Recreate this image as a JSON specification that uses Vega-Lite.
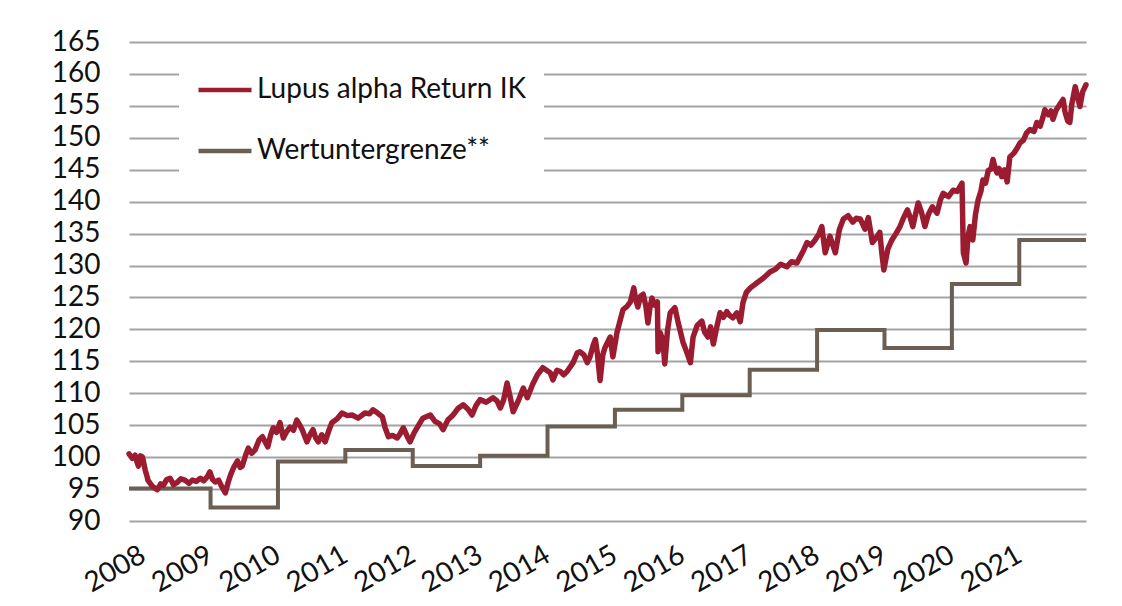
{
  "$schema": "https://vega.github.io/schema/vega-lite/v6.json",
  "width": 957,
  "height": 479,
  "autosize": {"type": "none"},
  "padding": {"left": 129, "top": 42, "right": 36, "bottom": 85},
  "background": "white",
  "config": {
    "font": "Lato",
    "view": {"stroke": null},
    "axis": {"labelFont": "Lato", "labelFontSize": 28, "labelColor": "#111111", "titleFont": "Lato"}
  },
  "datasets": {
    "fund": [
      {"t": 2007.79, "v": 100.5}, {"t": 2007.84, "v": 99.8}, {"t": 2007.88, "v": 100.3}, {"t": 2007.91, "v": 99.2}, {"t": 2007.93, "v": 98.6}, {"t": 2007.96, "v": 100.2}, {"t": 2007.99, "v": 100.0},
      {"t": 2008.03, "v": 98.0}, {"t": 2008.06, "v": 96.9}, {"t": 2008.07, "v": 96.4}, {"t": 2008.14, "v": 95.4}, {"t": 2008.21, "v": 94.9}, {"t": 2008.26, "v": 95.8}, {"t": 2008.30, "v": 95.6},
      {"t": 2008.35, "v": 96.5}, {"t": 2008.40, "v": 96.7}, {"t": 2008.45, "v": 95.7}, {"t": 2008.50, "v": 96.0}, {"t": 2008.56, "v": 96.6}, {"t": 2008.62, "v": 96.4}, {"t": 2008.68, "v": 95.9}, {"t": 2008.73, "v": 96.4},
      {"t": 2008.79, "v": 96.2}, {"t": 2008.85, "v": 96.7}, {"t": 2008.90, "v": 96.3}, {"t": 2008.95, "v": 96.9}, {"t": 2008.99, "v": 97.7}, {"t": 2009.03, "v": 96.5}, {"t": 2009.07, "v": 96.1},
      {"t": 2009.12, "v": 96.4}, {"t": 2009.17, "v": 95.3}, {"t": 2009.22, "v": 94.4}, {"t": 2009.26, "v": 96.0}, {"t": 2009.30, "v": 97.3}, {"t": 2009.34, "v": 98.3}, {"t": 2009.40, "v": 99.4},
      {"t": 2009.44, "v": 98.4}, {"t": 2009.47, "v": 98.6}, {"t": 2009.52, "v": 100.3}, {"t": 2009.56, "v": 101.4}, {"t": 2009.61, "v": 100.6}, {"t": 2009.66, "v": 101.1}, {"t": 2009.72, "v": 102.7}, {"t": 2009.77, "v": 103.2},
      {"t": 2009.81, "v": 102.4}, {"t": 2009.85, "v": 101.6}, {"t": 2009.89, "v": 103.4}, {"t": 2009.93, "v": 104.6}, {"t": 2009.98, "v": 103.9}, {"t": 2010.03, "v": 105.4}, {"t": 2010.08, "v": 103.0},
      {"t": 2010.13, "v": 104.0}, {"t": 2010.18, "v": 104.7}, {"t": 2010.23, "v": 104.2}, {"t": 2010.28, "v": 105.8}, {"t": 2010.32, "v": 105.1}, {"t": 2010.36, "v": 104.3}, {"t": 2010.43, "v": 102.4},
      {"t": 2010.48, "v": 103.6}, {"t": 2010.52, "v": 104.3}, {"t": 2010.56, "v": 103.0}, {"t": 2010.60, "v": 102.4}, {"t": 2010.65, "v": 103.5}, {"t": 2010.70, "v": 102.4}, {"t": 2010.75, "v": 104.0}, {"t": 2010.80, "v": 105.4},
      {"t": 2010.88, "v": 106.0}, {"t": 2010.95, "v": 106.9}, {"t": 2011.03, "v": 106.5}, {"t": 2011.10, "v": 106.6}, {"t": 2011.19, "v": 106.1}, {"t": 2011.29, "v": 106.9},
      {"t": 2011.36, "v": 106.8}, {"t": 2011.41, "v": 107.4}, {"t": 2011.48, "v": 106.9}, {"t": 2011.55, "v": 106.3}, {"t": 2011.59, "v": 104.6}, {"t": 2011.64, "v": 103.2}, {"t": 2011.70, "v": 103.4}, {"t": 2011.77, "v": 103.0},
      {"t": 2011.81, "v": 103.6}, {"t": 2011.86, "v": 104.6}, {"t": 2011.92, "v": 103.2}, {"t": 2011.96, "v": 102.4}, {"t": 2012.02, "v": 103.8}, {"t": 2012.07, "v": 104.7}, {"t": 2012.15, "v": 106.1},
      {"t": 2012.26, "v": 106.6}, {"t": 2012.33, "v": 105.6}, {"t": 2012.40, "v": 105.2}, {"t": 2012.45, "v": 104.3}, {"t": 2012.52, "v": 105.8}, {"t": 2012.60, "v": 106.6}, {"t": 2012.67, "v": 107.6}, {"t": 2012.75, "v": 108.2},
      {"t": 2012.82, "v": 107.5}, {"t": 2012.88, "v": 106.6}, {"t": 2012.94, "v": 108.1}, {"t": 2013.00, "v": 109.0}, {"t": 2013.09, "v": 108.6}, {"t": 2013.19, "v": 109.3}, {"t": 2013.25, "v": 108.8}, {"t": 2013.30, "v": 107.7},
      {"t": 2013.35, "v": 109.0}, {"t": 2013.40, "v": 111.6}, {"t": 2013.45, "v": 109.2}, {"t": 2013.49, "v": 107.1}, {"t": 2013.57, "v": 108.9}, {"t": 2013.64, "v": 110.8}, {"t": 2013.70, "v": 109.3},
      {"t": 2013.78, "v": 111.4}, {"t": 2013.85, "v": 112.9}, {"t": 2013.93, "v": 114.0}, {"t": 2014.04, "v": 113.2}, {"t": 2014.08, "v": 112.1},
      {"t": 2014.14, "v": 113.6}, {"t": 2014.19, "v": 113.4}, {"t": 2014.24, "v": 112.9}, {"t": 2014.29, "v": 113.4}, {"t": 2014.38, "v": 114.8}, {"t": 2014.44, "v": 116.3}, {"t": 2014.48, "v": 116.5},
      {"t": 2014.54, "v": 116.0}, {"t": 2014.59, "v": 114.8}, {"t": 2014.63, "v": 115.7}, {"t": 2014.68, "v": 117.6}, {"t": 2014.71, "v": 118.4}, {"t": 2014.74, "v": 116.2}, {"t": 2014.78, "v": 112.0},
      {"t": 2014.82, "v": 116.0}, {"t": 2014.85, "v": 117.1}, {"t": 2014.93, "v": 118.8}, {"t": 2014.97, "v": 115.7}, {"t": 2015.03, "v": 119.5},
      {"t": 2015.08, "v": 121.5}, {"t": 2015.12, "v": 123.1}, {"t": 2015.18, "v": 123.6}, {"t": 2015.23, "v": 124.3}, {"t": 2015.28, "v": 126.5}, {"t": 2015.31, "v": 124.6}, {"t": 2015.34, "v": 123.5},
      {"t": 2015.38, "v": 125.2}, {"t": 2015.42, "v": 125.5}, {"t": 2015.46, "v": 123.6}, {"t": 2015.49, "v": 121.0}, {"t": 2015.52, "v": 123.4}, {"t": 2015.55, "v": 124.9}, {"t": 2015.59, "v": 123.8}, {"t": 2015.63, "v": 124.3},
      {"t": 2015.64, "v": 116.5}, {"t": 2015.67, "v": 119.5}, {"t": 2015.71, "v": 118.4}, {"t": 2015.74, "v": 114.6}, {"t": 2015.78, "v": 119.8}, {"t": 2015.82, "v": 122.6},
      {"t": 2015.89, "v": 123.4}, {"t": 2015.94, "v": 121.0}, {"t": 2016.01, "v": 118.0}, {"t": 2016.06, "v": 116.6}, {"t": 2016.12, "v": 114.8},
      {"t": 2016.16, "v": 118.8}, {"t": 2016.22, "v": 120.6}, {"t": 2016.29, "v": 121.3}, {"t": 2016.33, "v": 119.6}, {"t": 2016.38, "v": 118.8}, {"t": 2016.42, "v": 120.4}, {"t": 2016.46, "v": 117.7},
      {"t": 2016.51, "v": 120.3}, {"t": 2016.56, "v": 122.6}, {"t": 2016.61, "v": 121.9}, {"t": 2016.66, "v": 122.8}, {"t": 2016.70, "v": 122.2}, {"t": 2016.75, "v": 121.8}, {"t": 2016.81, "v": 122.6}, {"t": 2016.86, "v": 121.2},
      {"t": 2016.90, "v": 124.2}, {"t": 2016.95, "v": 125.8}, {"t": 2017.01, "v": 126.5}, {"t": 2017.11, "v": 127.3}, {"t": 2017.20, "v": 128.0}, {"t": 2017.30, "v": 129.0},
      {"t": 2017.38, "v": 129.4}, {"t": 2017.46, "v": 130.2}, {"t": 2017.55, "v": 129.8}, {"t": 2017.62, "v": 130.6}, {"t": 2017.70, "v": 130.4}, {"t": 2017.75, "v": 131.4}, {"t": 2017.80, "v": 132.4}, {"t": 2017.85, "v": 133.6},
      {"t": 2017.91, "v": 133.2}, {"t": 2017.97, "v": 134.0}, {"t": 2018.03, "v": 135.0}, {"t": 2018.07, "v": 136.1}, {"t": 2018.12, "v": 132.0}, {"t": 2018.19, "v": 134.6},
      {"t": 2018.27, "v": 132.0}, {"t": 2018.33, "v": 135.6}, {"t": 2018.39, "v": 137.3}, {"t": 2018.46, "v": 137.8}, {"t": 2018.53, "v": 136.8},
      {"t": 2018.58, "v": 137.4}, {"t": 2018.64, "v": 137.3}, {"t": 2018.71, "v": 135.7}, {"t": 2018.76, "v": 137.5}, {"t": 2018.82, "v": 133.6}, {"t": 2018.88, "v": 134.4},
      {"t": 2018.93, "v": 135.2}, {"t": 2018.96, "v": 132.0}, {"t": 2018.99, "v": 129.3}, {"t": 2019.05, "v": 132.6}, {"t": 2019.11, "v": 134.0}, {"t": 2019.17, "v": 135.0}, {"t": 2019.23, "v": 136.1},
      {"t": 2019.28, "v": 137.4}, {"t": 2019.34, "v": 138.7}, {"t": 2019.38, "v": 137.6}, {"t": 2019.42, "v": 136.1}, {"t": 2019.46, "v": 138.0}, {"t": 2019.50, "v": 139.8}, {"t": 2019.55, "v": 138.3}, {"t": 2019.60, "v": 136.1},
      {"t": 2019.65, "v": 138.0}, {"t": 2019.71, "v": 139.2}, {"t": 2019.78, "v": 138.2}, {"t": 2019.83, "v": 140.3}, {"t": 2019.87, "v": 141.3}, {"t": 2019.95, "v": 140.8}, {"t": 2020.02, "v": 141.8},
      {"t": 2020.08, "v": 141.6}, {"t": 2020.15, "v": 142.9}, {"t": 2020.17, "v": 132.0}, {"t": 2020.21, "v": 130.4}, {"t": 2020.24, "v": 134.6}, {"t": 2020.27, "v": 136.1},
      {"t": 2020.31, "v": 134.0}, {"t": 2020.35, "v": 138.0}, {"t": 2020.39, "v": 140.3}, {"t": 2020.43, "v": 141.6}, {"t": 2020.46, "v": 143.4}, {"t": 2020.50, "v": 142.9}, {"t": 2020.54, "v": 144.9},
      {"t": 2020.58, "v": 145.1}, {"t": 2020.61, "v": 146.6}, {"t": 2020.64, "v": 145.3}, {"t": 2020.67, "v": 144.5}, {"t": 2020.70, "v": 145.2}, {"t": 2020.74, "v": 143.9}, {"t": 2020.78, "v": 145.0}, {"t": 2020.82, "v": 143.1},
      {"t": 2020.86, "v": 147.0}, {"t": 2020.92, "v": 147.6}, {"t": 2020.97, "v": 148.4}, {"t": 2021.01, "v": 149.2}, {"t": 2021.06, "v": 149.6}, {"t": 2021.11, "v": 150.8}, {"t": 2021.16, "v": 151.3}, {"t": 2021.22, "v": 151.0}, {"t": 2021.26, "v": 152.4}, {"t": 2021.31, "v": 151.8},
      {"t": 2021.35, "v": 153.2}, {"t": 2021.38, "v": 154.4}, {"t": 2021.43, "v": 153.6}, {"t": 2021.47, "v": 154.2}, {"t": 2021.50, "v": 152.9}, {"t": 2021.55, "v": 154.4}, {"t": 2021.60, "v": 155.2}, {"t": 2021.65, "v": 156.0},
      {"t": 2021.68, "v": 154.0}, {"t": 2021.72, "v": 152.6}, {"t": 2021.75, "v": 152.4}, {"t": 2021.78, "v": 155.3}, {"t": 2021.83, "v": 158.0}, {"t": 2021.86, "v": 156.6}, {"t": 2021.90, "v": 154.9}, {"t": 2021.94, "v": 157.2}, {"t": 2021.99, "v": 158.3}
    ],
    "floor": [
      {"t": 2007.79, "v": 95.1}, {"t": 2009.0, "v": 92.1}, {"t": 2010.0, "v": 99.3}, {"t": 2011.0, "v": 101.1},
      {"t": 2012.0, "v": 98.6}, {"t": 2013.0, "v": 100.2}, {"t": 2014.0, "v": 104.8}, {"t": 2015.0, "v": 107.4},
      {"t": 2016.0, "v": 109.7}, {"t": 2017.0, "v": 113.7}, {"t": 2018.0, "v": 119.9}, {"t": 2019.0, "v": 117.1},
      {"t": 2020.0, "v": 127.1}, {"t": 2021.0, "v": 134.0}, {"t": 2021.99, "v": 134.0}
    ]
  },
  "encoding": {
    "x": {
      "field": "t", "type": "quantitative",
      "scale": {"domain": [2007.79, 2021.99], "nice": false, "zero": false},
      "axis": {
        "title": null, "values": [2008, 2009, 2010, 2011, 2012, 2013, 2014, 2015, 2016, 2017, 2018, 2019, 2020, 2021],
        "format": "d", "grid": false, "domain": false, "ticks": false, "tickSize": 0,
        "labelAngle": -30, "labelAlign": "right", "labelBaseline": "middle", "labelPadding": 32,
        "labelOverlap": false, "labelFlush": false
      }
    },
    "y": {
      "field": "v", "type": "quantitative",
      "scale": {"domain": [90, 165], "nice": false, "zero": false},
      "axis": {
        "title": null, "values": [90, 95, 100, 105, 110, 115, 120, 125, 130, 135, 140, 145, 150, 155, 160, 165],
        "grid": true, "gridColor": "#a3a3a3", "gridWidth": 2, "domain": false, "ticks": false, "tickSize": 0,
        "labelPadding": 29, "labelOverlap": false, "labelFlush": false
      }
    },
    "color": {
      "field": "series", "type": "nominal",
      "scale": {"domain": ["Lupus alpha Return IK", "Wertuntergrenze**"], "range": ["#9b1c31", "#6b5e53"]},
      "legend": {
        "title": null, "orient": "none", "legendX": 50, "legendY": 2, "padding": 17,
        "fillColor": "white", "symbolType": "stroke", "symbolSize": 2809, "symbolStrokeWidth": 4.5,
        "labelFont": "Lato", "labelFontSize": 28, "labelColor": "#111111", "labelOffset": 3,
        "rowPadding": 18, "labelLimit": 400
      }
    }
  },
  "layer": [
    {
      "data": {"name": "floor"},
      "mark": {"type": "line", "interpolate": "step-after", "strokeWidth": 4, "strokeJoin": "miter"},
      "encoding": {"color": {"datum": "Wertuntergrenze**"}}
    },
    {
      "data": {"name": "fund"},
      "mark": {"type": "line", "strokeWidth": 5.5, "strokeJoin": "round", "strokeCap": "round"},
      "encoding": {"color": {"datum": "Lupus alpha Return IK"}}
    }
  ]
}
